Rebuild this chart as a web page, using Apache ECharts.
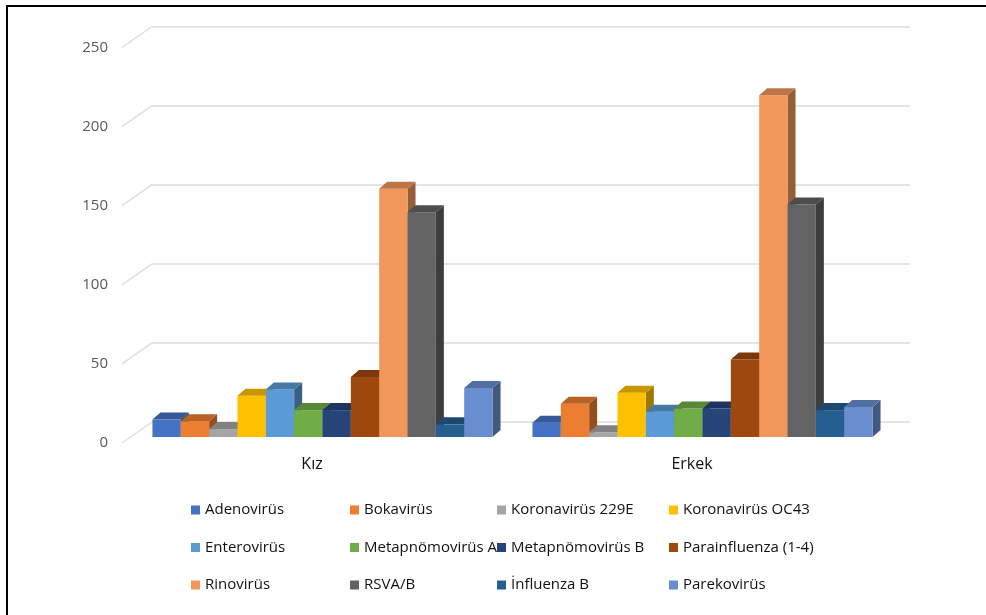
<!DOCTYPE html>
<html>
<head>
<meta charset="utf-8">
<script src="https://cdn.jsdelivr.net/npm/echarts@6/dist/echarts.min.js"></script>
<style>
html,body{margin:0;padding:0;background:#fff;}
#chart{width:986px;height:615px;}
</style>
</head>
<body>
<div id="chart"></div>
<script>
const categories = ['Kız', 'Erkek'];
const seriesNames = ['Adenovirüs', 'Bokavirüs', 'Koronavirüs 229E', 'Koronavirüs OC43',
  'Enterovirüs', 'Metapnömovirüs A', 'Metapnömovirüs B', 'Parainfluenza (1-4)',
  'Rinovirüs', 'RSVA/B', 'İnfluenza B', 'Parekovirüs'];
const kizValues   = [11, 10, 5, 26, 30, 17, 17, 38, 157, 142, 8, 31];
const erkekValues = [9, 21, 3, 28, 16, 18, 18, 49, 216, 147, 17, 19];
const yTicks = [0, 50, 100, 150, 200, 250];
const colors = ['#4472C4', '#ED7D31', '#A5A5A5', '#FFC000', '#5B9BD5', '#70AD47',
  '#264478', '#9E480E', '#F1975A', '#636363', '#255E91', '#698ED0'];
const legendColumns = [
  ['Adenovirüs', 'Enterovirüs', 'Rinovirüs'],
  ['Bokavirüs', 'Metapnömovirüs A', 'RSVA/B'],
  ['Koronavirüs 229E', 'Metapnömovirüs B', 'İnfluenza B'],
  ['Koronavirüs OC43', 'Parainfluenza (1-4)', 'Parekovirüs']
];

const FONT = '"Open Sans", "Noto Sans", sans-serif';
const N = seriesNames.length;
const CLUSTER = 0.895;
const DX = 8, DY = -7;

function shade(hex, f) {
  const n = parseInt(hex.slice(1), 16);
  const r = Math.round(((n >> 16) & 255) * f);
  const g = Math.round(((n >> 8) & 255) * f);
  const b = Math.round((n & 255) * f);
  return 'rgb(' + r + ',' + g + ',' + b + ')';
}

function barSeries(i) {
  const color = colors[i];
  return {
    name: seriesNames[i],
    type: 'custom',
    xAxisIndex: 1,
    yAxisIndex: 1,
    itemStyle: { color: color },
    data: [[0, kizValues[i]], [1, erkekValues[i]]],
    renderItem: function (params, api) {
      const cat = api.value(0);
      const base = api.coord([cat, 0]);
      const top = api.coord([cat, api.value(1)]);
      const band = api.size([1, 0])[0];
      const bw = band * CLUSTER / N;
      const x0 = base[0] - bw * N / 2 + i * bw;
      const x1 = x0 + bw;
      const yb = base[1];
      const yt = top[1];
      return {
        type: 'group',
        children: [
          { type: 'polygon', shape: { points: [[x1, yt], [x1 + DX, yt + DY], [x1 + DX, yb + DY], [x1, yb]] },
            style: { fill: shade(color, 0.62) } },
          { type: 'rect', shape: { x: x0, y: yt, width: bw, height: yb - yt },
            style: { fill: color } },
          { type: 'polygon', shape: { points: [[x0, yt], [x1, yt], [x1 + DX, yt + DY], [x0 + DX, yt + DY]] },
            style: { fill: shade(color, 0.78) } }
        ]
      };
    }
  };
}

const wallSeries = {
  type: 'custom',
  xAxisIndex: 0,
  yAxisIndex: 0,
  silent: true,
  z: 1,
  data: yTicks.map(v => [0, v]),
  renderItem: function (params, api) {
    const p = api.coord([0, api.value(1)]);
    return {
      type: 'line',
      shape: { x1: p[0], y1: p[1], x2: p[0] - 30, y2: p[1] + 21 },
      style: { stroke: '#dedede', lineWidth: 1.5 }
    };
  }
};

const legends = legendColumns.map((col, k) => ({
  orient: 'vertical',
  left: [191, 350, 497, 669][k],
  top: 501,
  padding: 0,
  itemWidth: 9,
  itemHeight: 9,
  itemGap: 19.5,
  icon: 'rect',
  selectedMode: false,
  data: col,
  textStyle: { fontFamily: FONT, fontSize: 15, color: '#111', lineHeight: 18 }
}));

const chart = echarts.init(document.getElementById('chart'), null, { renderer: 'canvas' });
chart.setOption({
  backgroundColor: '#ffffff',
  animation: false,
  grid: [
    { left: 152, top: 26.5, width: 758, height: 395.5 },
    { left: 132.5, top: 41.5, width: 760, height: 395.5 },
    { left: 122, top: 47.5, width: 760, height: 395.5 }
  ],
  xAxis: [
    { gridIndex: 0, type: 'value', min: 0, max: 1, show: false },
    { gridIndex: 1, type: 'category', data: categories, show: false },
    { gridIndex: 2, type: 'category', data: categories,
      axisLine: { show: false }, axisTick: { show: false },
      axisLabel: { margin: 13, fontFamily: FONT, fontSize: 16, color: '#111' } }
  ],
  yAxis: [
    { gridIndex: 0, type: 'value', min: 0, max: 250, interval: 50,
      axisLine: { show: false }, axisTick: { show: false }, axisLabel: { show: false },
      splitLine: { show: true, lineStyle: { color: '#dcdcdc', width: 1.5 } } },
    { gridIndex: 1, type: 'value', min: 0, max: 250, interval: 50, show: false,
      splitLine: { show: false } },
    { gridIndex: 2, type: 'value', min: 0, max: 250, interval: 50,
      axisLine: { show: false }, axisTick: { show: false }, splitLine: { show: false },
      axisLabel: { margin: 14, fontFamily: FONT, fontSize: 15, color: '#595959' } }
  ],
  legend: legends,
  graphic: [
    { type: 'line', shape: { x1: 7, y1: 6, x2: 7, y2: 615 }, style: { stroke: '#000', lineWidth: 2 } },
    { type: 'line', shape: { x1: 6, y1: 6, x2: 986, y2: 6 }, style: { stroke: '#000', lineWidth: 2 } }
  ],
  series: [wallSeries].concat(seriesNames.map((n, i) => barSeries(i)))
});
</script>
</body>
</html>
